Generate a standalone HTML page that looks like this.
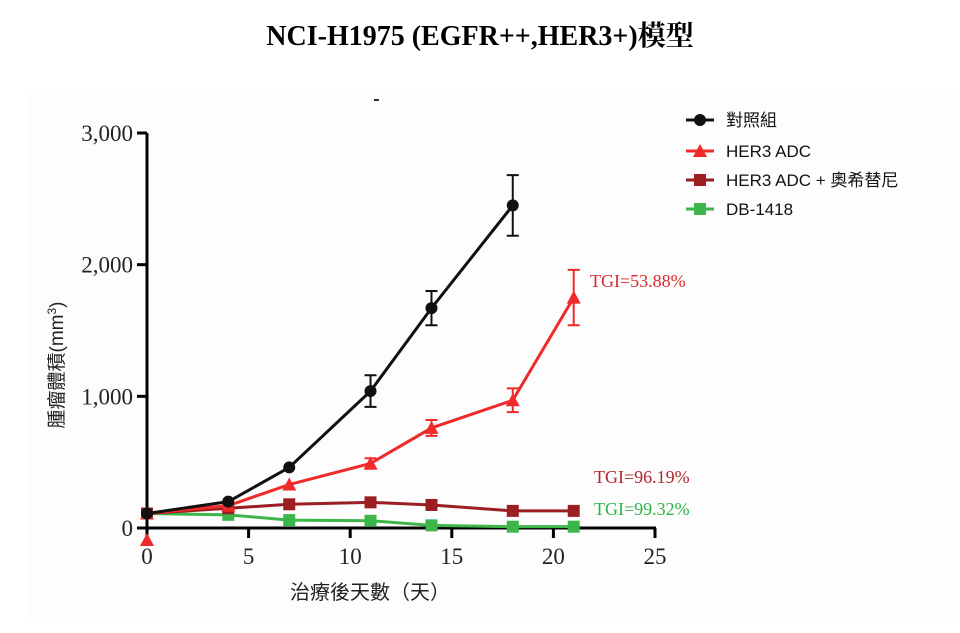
<!DOCTYPE html>
<html><head><meta charset="utf-8"><style>
body{margin:0;background:#fff;}
svg{display:block;}
</style></head><body>
<svg id="chart" width="960" height="633" xmlns="http://www.w3.org/2000/svg">
<rect x="28" y="92" width="932" height="530" fill="#fdfdfd"/>
<text x="480" y="45" text-anchor="middle" font-family="Liberation Serif, Noto Serif CJK SC, serif" font-weight="bold" font-size="28">NCI-H1975 (EGFR++,HER3+)模型</text>
<rect x="374" y="99" width="5" height="2" fill="#333"/>
<g id="axes"></g>
<g id="series"></g>
<g id="legend"></g>
</svg>
<script>
const days=[0,4,7,11,14,18,21];
const ctrlDays=[0,4,7,11,14,18];
const ctrl=[110,200,460,1040,1670,2450];
const ctrlErr=[0,0,0,120,130,230];
const her3=[110,170,330,490,760,970,1750];
const her3Err=[0,0,0,40,60,90,210];
const combo=[110,150,180,195,175,130,130];
const db=[110,100,60,55,20,10,10];
const yTicks=[0,1000,2000,3000];
const yTickLabels=["0","1,000","2,000","3,000"];
const xTicks=[0,5,10,15,20,25];
const NS="http://www.w3.org/2000/svg";
const X=d=>147+d*(655-147)/25;
const Y=v=>528-v*(528-133)/3000;
function mk(tag,attrs,parent){const e=document.createElementNS(NS,tag);for(const k in attrs)e.setAttribute(k,attrs[k]);parent.appendChild(e);return e;}
const axes=document.getElementById('axes'),ser=document.getElementById('series'),leg=document.getElementById('legend');
let a=mk('line',{x1:147,y1:Y(3000),x2:147,y2:528,stroke:'#000','stroke-width':3},axes);


a=mk('line',{x1:138,y1:528,x2:656,y2:528,stroke:'#000','stroke-width':3},axes);


yTicks.forEach((v,i)=>{
 const t=mk('line',{x1:137,y1:Y(v),x2:147,y2:Y(v),stroke:'#000','stroke-width':3},axes);
 
 
 const l=mk('text',{x:133,y:Y(v)+8,'text-anchor':'end','font-family':'Liberation Serif, serif','font-size':23,fill:'#222'},axes);
 l.textContent=yTickLabels[i];
 
 
});
xTicks.forEach(v=>{
 const t=mk('line',{x1:X(v),y1:528,x2:X(v),y2:538,stroke:'#000','stroke-width':3},axes);
 
 
 const l=mk('text',{x:X(v),y:564,'text-anchor':'middle','font-family':'Liberation Serif, serif','font-size':23,fill:'#222'},axes);
 l.textContent=v;
 
 
});
let t=mk('text',{x:370,y:599,'text-anchor':'middle','font-family':'Liberation Sans, Noto Sans CJK TC, sans-serif','font-size':20,fill:'#222'},axes);
t.textContent='治療後天數（天）';


t=mk('text',{x:0,y:0,'text-anchor':'middle','font-family':'Liberation Sans, Noto Sans CJK TC, sans-serif','font-size':19,fill:'#222',transform:'translate(63,365) rotate(-90)'},axes);
t.innerHTML='腫瘤體積(mm<tspan dy="-7" font-size="12">3</tspan><tspan dy="7">)</tspan>';



function marker(shape,x,y,color,parent,s){
 let e;
 if(shape==='circle')e=mk('circle',{cx:x,cy:y,r:s,fill:color},parent);
 else if(shape==='tri')e=mk('polygon',{points:`${x},${y-s-1} ${x-s-1},${y+s} ${x+s+1},${y+s}`,fill:color},parent);
 else e=mk('rect',{x:x-s,y:y-s,width:2*s,height:2*s,fill:color},parent);
 return e;
}
function series(name,xs,vals,errs,color,shape){
 const g=mk('g',{},ser);
 
 
 if(errs)vals.forEach((v,i)=>{if(!errs[i])return;const x=X(xs[i]);
  const e=mk('path',{d:`M${x},${Y(v-errs[i])}V${Y(v+errs[i])}M${x-6},${Y(v+errs[i])}H${x+6}M${x-6},${Y(v-errs[i])}H${x+6}`,stroke:color,'stroke-width':2,fill:'none'},g);
  
  });
 const p=mk('polyline',{points:vals.map((v,i)=>X(xs[i])+','+Y(v)).join(' '),stroke:color,'stroke-width':3,fill:'none'},g);
 
 
 vals.forEach((v,i)=>{const m=marker(shape,X(xs[i]),Y(v),color,g,6);
  
  });
}
series('db-1418',days,db,null,'#3cb64a','sq');
series('combo',days,combo,null,'#9b1f22','sq');
series('her3-adc',days,her3,her3Err,'#f02a2a','tri');
series('control',ctrlDays,ctrl,ctrlErr,'#111','circle');
const m0=marker('tri',X(0),540,'#f02a2a',ser,6);



const tgi=[['TGI=53.88%','#e0262a',590,287],['TGI=96.19%','#b0262a',594,483],['TGI=99.32%','#2db44a',594,515]];
tgi.forEach(d=>{const e=mk('text',{x:d[2],y:d[3],'font-family':'Liberation Serif, serif','font-size':18,fill:d[1]},ser);
 e.textContent=d[0];
 
 });

const legNames=['對照組','HER3 ADC','HER3 ADC + 奧希替尼','DB-1418'];
const legColors=['#111','#f02a2a','#9b1f22','#3cb64a'];
const legShapes=['circle','tri','sq','sq'];
const legY=[120,151,180,209];
legNames.forEach((n,i)=>{
 const g=mk('g',{},leg);
 
 
 mk('line',{x1:686,y1:legY[i],x2:714,y2:legY[i],stroke:legColors[i],'stroke-width':3},g);
 marker(legShapes[i],700,legY[i],legColors[i],g,6);
 const tx=mk('text',{x:726,y:legY[i]+6,'font-family':'Liberation Sans, Noto Sans CJK TC, sans-serif','font-size':17,fill:'#111'},g);
 tx.textContent=n;
});
</script>
</body></html>
